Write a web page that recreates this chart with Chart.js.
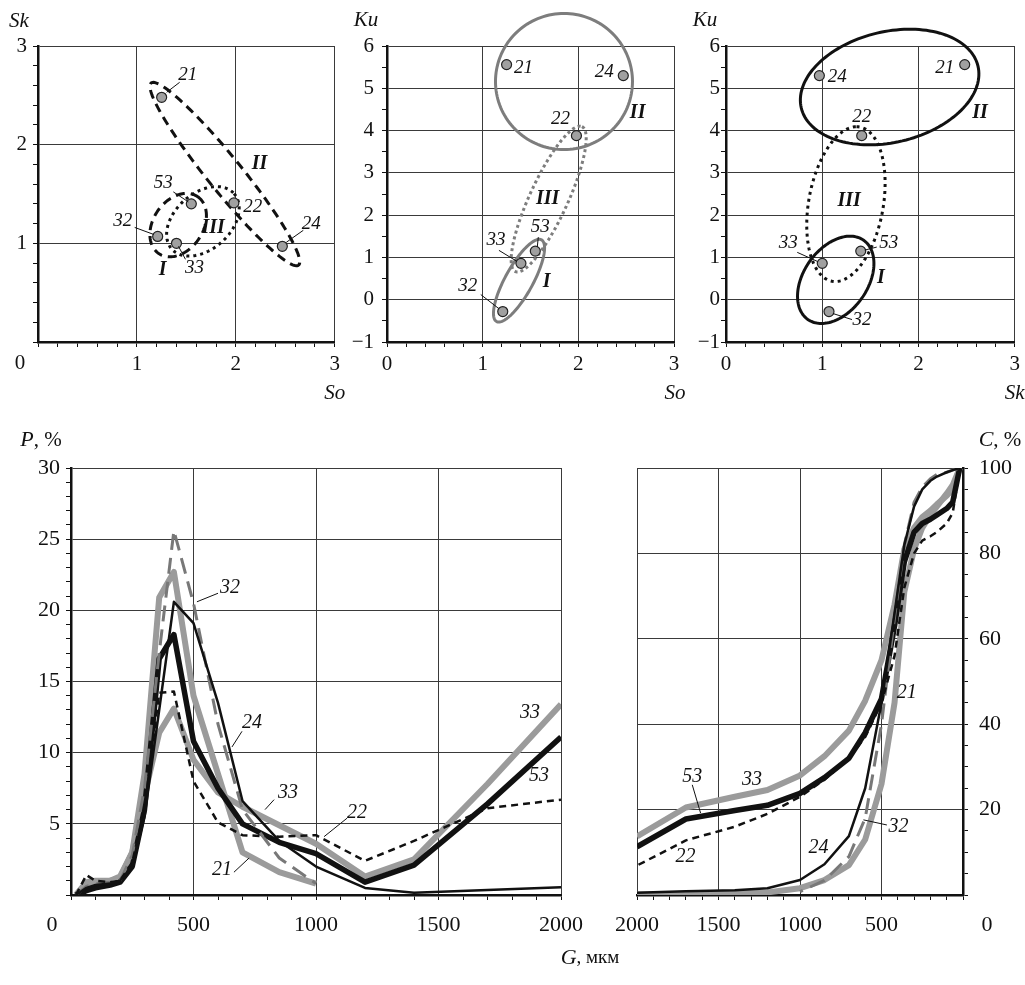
<!DOCTYPE html>
<html>
<head>
<meta charset="utf-8">
<title>Grain size parameters</title>
<script src="https://cdn.jsdelivr.net/npm/chart.js@4.4.1/dist/chart.umd.min.js"></script>
<style>
  html, body { margin: 0; padding: 0; background: #fff; }
  #wrap { position: relative; width: 1025px; height: 985px; overflow: hidden; }
  #wrap canvas { position: absolute; }
</style>
</head>
<body>
<div id="wrap">
  <canvas id="soSk" width="345" height="405" style="left:0;top:0"></canvas>
  <canvas id="soKu" width="345" height="405" style="left:340px;top:0"></canvas>
  <canvas id="skKu" width="340" height="405" style="left:685px;top:0"></canvas>
  <canvas id="pChart" width="640" height="565" style="left:0;top:420px"></canvas>
  <canvas id="cChart" width="425" height="565" style="left:600px;top:420px"></canvas>
</div>
<script>
var FONT = '"Liberation Serif", "Times New Roman", serif';
Chart.defaults.font.family = FONT;
Chart.defaults.color = "#111";

// samples: sorting (So), skewness (Sk), kurtosis (Ku)
var sampleIds = ["21", "22", "24", "32", "33", "53"];
var sampleSo = [1.25, 1.98, 2.47, 1.21, 1.40, 1.55];
var sampleSk = [2.48, 1.41, 0.97, 1.07, 1.00, 1.40];
var sampleKu = [5.56, 3.88, 5.30, -0.28, 0.86, 1.15];

// grain size, mkm
var gSizes = [20, 63, 100, 160, 200, 250, 300, 360, 420, 500, 600, 700, 850, 1000, 1200, 1400, 1700, 2000];

// P, % (fraction content)
var pct21 = [0, 0.9, 1.0, 1.0, 1.2, 3.0, 8.5, 20.9, 22.7, 14.0, 8.5, 3.0, 1.6, 0.8];
var pct22 = [0, 1.4, 1.0, 0.9, 1.0, 2.3, 6.0, 14.2, 14.3, 8.0, 5.1, 4.2, 4.1, 4.2, 2.4, 3.8, 6.1, 6.7];
var pct24 = [0, 0.5, 0.7, 0.8, 1.0, 2.0, 5.5, 13.0, 20.6, 19.1, 13.5, 6.6, 3.8, 2.0, 0.5, 0.15, 0.35, 0.55];
var pct32 = [0, 0.6, 0.8, 0.9, 1.0, 2.8, 7.5, 17.0, 25.6, 20.5, 12.0, 6.0, 2.6, 0.8];
var pct33 = [0, 0.7, 0.9, 1.0, 1.3, 3.0, 7.0, 11.4, 13.1, 9.5, 7.2, 6.2, 4.9, 3.6, 1.3, 2.5, 7.8, 13.4];
var pct53 = [0, 0.3, 0.5, 0.7, 0.9, 2.0, 6.0, 16.6, 18.3, 10.8, 7.5, 5.0, 3.7, 2.9, 0.9, 2.1, 6.4, 11.1];

// C, % (cumulative)
var cum21 = [100, 96, 94, 91, 89, 86, 81, 71, 45, 26, 13, 7, 3.5, 1.6, 0.6, 0.4, 0.2, 0.1];
var cum22 = [100, 89.5, 87, 85, 84, 83, 80, 72, 56, 45, 37, 32, 27, 23, 19, 16, 12.8, 6.9];
var cum24 = [100, 99.5, 99, 98, 97, 95, 91, 82, 66, 45, 25, 13.8, 7.2, 3.5, 1.6, 1.1, 0.9, 0.55];
var cum32 = [100, 99.5, 99, 98.5, 97.5, 95.5, 92, 82, 65, 40, 18, 9, 3.4, 0.8];
var cum33 = [100, 95, 93.5, 91.5, 90, 88.5, 86, 81, 68, 55, 45.5, 38.5, 32.5, 28, 24.6, 23, 20.5, 13.7];
var cum53 = [100, 92, 90.5, 89, 88, 87, 85, 78, 63, 46, 38, 32, 27.5, 23.8, 21, 19.8, 17.8, 11.3];

var seriesStyle = {
  "21": { color: "#9b9b9b", width: 6, dash: [] },
  "22": { color: "#111", width: 2.5, dash: [7, 5] },
  "24": { color: "#111", width: 2.5, dash: [] },
  "32": { color: "#787878", width: 3, dash: [16, 8] },
  "33": { color: "#9b9b9b", width: 6, dash: [] },
  "53": { color: "#111", width: 5.5, dash: [] }
};

// group outlines: centre and two conjugate half-axes, in axis units
var notes = {
  soSk: {
    ellipses: [
      { c: [1.889, 1.702], u: [0.745, -0.923], v: [-0.135, -0.109], color: "#111", width: 3, dash: [9, 6] },
      { c: [1.417, 1.185], u: [0.197, 0.288], v: [0.207, -0.143], color: "#111", width: 3, dash: [9, 6] },
      { c: [1.667, 1.223], u: [0.315, 0.281], v: [0.188, -0.212], color: "#111", width: 3, dash: [3, 4] }
    ],
    pointLabels: {
      "21": { dx: 26, dy: -22, lead: [5, -5, 18, -15] },
      "22": { dx: 19, dy: 4 },
      "24": { dx: 29, dy: -22, lead: [4, -4, 21, -16] },
      "32": { dx: -35, dy: -15, lead: [-4, -2, -23, -9] },
      "33": { dx: 18, dy: 25, lead: [2, 3, 9, 16] },
      "53": { dx: -28, dy: -21, lead: [-3, -2, -18, -12] }
    },
    romans: [["II", 2.24, 1.81], ["I", 1.26, 0.73], ["III", 1.77, 1.16]],
    titles: [
      { runs: [{ t: "Sk", it: true, s: 21 }], at: function (a) { return [a.left - 19, a.top - 25]; } },
      { runs: [{ t: "So", it: true, s: 21 }], at: function (a) { return [a.right, a.bottom + 51]; } },
      { runs: [{ t: "0", s: 21 }], at: function (a) { return [a.left - 18, a.bottom + 21]; } }
    ]
  },
  soKu: {
    ellipses: [
      { c: [1.85, 5.16], u: [0.716, 0], v: [0, 1.61], color: "#7d7d7d", width: 3, dash: [] },
      { c: [1.69, 2.38], u: [0.348, 1.714], v: [0.181, -0.187], color: "#7d7d7d", width: 3, dash: [3, 3] },
      { c: [1.38, 0.45], u: [0.235, 0.965], v: [0.127, -0.158], color: "#7d7d7d", width: 3, dash: [] }
    ],
    pointLabels: {
      "21": { dx: 17, dy: 3 },
      "24": { dx: -19, dy: -4 },
      "22": { dx: -16, dy: -17 },
      "53": { dx: 5, dy: -24, lead: [2, -4, 3, -14] },
      "33": { dx: -25, dy: -23, lead: [-4, -2, -22, -13] },
      "32": { dx: -35, dy: -26, lead: [-4, -3, -22, -17] }
    },
    romans: [["II", 2.62, 4.41], ["III", 1.68, 2.38], ["I", 1.67, 0.42]],
    titles: [
      { runs: [{ t: "Ku", it: true, s: 21 }], at: function (a) { return [a.left - 21, a.top - 26]; } },
      { runs: [{ t: "So", it: true, s: 21 }], at: function (a) { return [a.right + 1, a.bottom + 51]; } }
    ]
  },
  skKu: {
    ellipses: [
      { c: [1.70, 5.03], u: [0.918, 0.494], v: [0.132, -1.274], color: "#111", width: 3, dash: [] },
      { c: [1.246, 2.26], u: [0.11, 1.83], v: [0.392, 0], color: "#111", width: 3, dash: [3, 4] },
      { c: [1.14, 0.47], u: [0.290, 0.936], v: [0.271, -0.435], color: "#111", width: 3, dash: [] }
    ],
    pointLabels: {
      "24": { dx: 18, dy: 1 },
      "21": { dx: -20, dy: 3 },
      "22": { dx: 0, dy: -19 },
      "33": { dx: -34, dy: -20, lead: [-5, -2, -25, -11] },
      "53": { dx: 28, dy: -8, lead: [4, -1, 16, -4] },
      "32": { dx: 33, dy: 8, lead: [4, 2, 23, 8] }
    },
    romans: [["II", 2.64, 4.41], ["III", 1.28, 2.33], ["I", 1.61, 0.51]],
    titles: [
      { runs: [{ t: "Ku", it: true, s: 21 }], at: function (a) { return [a.left - 21, a.top - 26]; } },
      { runs: [{ t: "Sk", it: true, s: 21 }], at: function (a) { return [a.right, a.bottom + 51]; } }
    ]
  },
  pChart: {
    tags: [
      ["32", 649, 21.6, [600, 21.2, 514, 20.6]],
      ["24", 739, 12.1, [698, 11.5, 657, 10.4]],
      ["33", 886, 7.2, [829, 6.7, 792, 6.0]],
      ["22", 1167, 5.8, [1127, 5.4, 1033, 4.1]],
      ["21", 616, 1.75, [665, 1.6, 727, 2.6]],
      ["33", 1873, 12.8],
      ["53", 1910, 8.4]
    ],
    titles: [
      { runs: [{ t: "P", it: true, s: 22 }, { t: ", %", s: 21 }], at: function (a) { return [a.left - 30, a.top - 28]; } },
      { runs: [{ t: "0", s: 22 }], at: function (a) { return [a.left - 19, a.bottom + 30]; } },
      { runs: [{ t: "G", it: true, s: 22 }, { t: ", мкм", s: 19 }], at: function () { return [590, 538]; } }
    ]
  },
  cChart: {
    tags: [
      ["21", 345, 47.3],
      ["53", 1661, 27.7, [1661, 25.8, 1610, 19.2]],
      ["33", 1294, 27],
      ["22", 1702, 9],
      ["24", 886, 11],
      ["32", 396, 16, [467, 16.4, 611, 17.6]]
    ],
    titles: [
      { runs: [{ t: "C", it: true, s: 22 }, { t: ", %", s: 21 }], at: function (a) { return [a.right + 37, a.top - 28]; } },
      { runs: [{ t: "0", s: 22 }], at: function (a) { return [a.right + 24, a.bottom + 30]; } }
    ]
  }
};

function isMajor(v, step) {
  var q = v / step;
  return Math.abs(q - Math.round(q)) < 1e-6;
}

function numText(v) {
  var r = Math.round(v * 10) / 10;
  return r < 0 ? "\u2212" + Math.abs(r) : String(r);
}

function runFont(r) {
  return (r.it ? "italic " : "") + (r.b ? "bold " : "") + (r.s || 20) + "px " + FONT;
}

function drawRuns(ctx, runs, cx, cy) {
  var total = 0;
  runs.forEach(function (r) {
    ctx.font = runFont(r);
    total += ctx.measureText(r.t).width;
  });
  var x = cx - total / 2;
  ctx.textBaseline = "middle";
  ctx.textAlign = "left";
  runs.forEach(function (r) {
    ctx.font = runFont(r);
    ctx.fillText(r.t, x, cy);
    x += ctx.measureText(r.t).width;
  });
}

function drawEllipse(chart, e) {
  var xs = chart.scales.x, ys = chart.scales.y, ctx = chart.ctx;
  ctx.save();
  ctx.beginPath();
  for (var k = 0; k <= 144; k++) {
    var t = (k / 144) * Math.PI * 2;
    var dx = e.c[0] + e.u[0] * Math.cos(t) + e.v[0] * Math.sin(t);
    var dy = e.c[1] + e.u[1] * Math.cos(t) + e.v[1] * Math.sin(t);
    var px = xs.getPixelForValue(dx), py = ys.getPixelForValue(dy);
    if (k === 0) ctx.moveTo(px, py); else ctx.lineTo(px, py);
  }
  ctx.closePath();
  ctx.setLineDash(e.dash);
  ctx.lineWidth = e.width;
  ctx.strokeStyle = e.color;
  ctx.stroke();
  ctx.restore();
}

var annotate = {
  id: "annotate",
  beforeDatasetsDraw: function (chart) {
    var n = notes[chart.canvas.id];
    (n.ellipses || []).forEach(function (e) { drawEllipse(chart, e); });
  },
  afterDatasetsDraw: function (chart) {
    var n = notes[chart.canvas.id];
    var ctx = chart.ctx, xs = chart.scales.x, ys = chart.scales.y;
    ctx.save();
    ctx.fillStyle = "#111";
    ctx.strokeStyle = "#111";
    ctx.lineWidth = 1;
    if (n.pointLabels) {
      var pts = chart.getDatasetMeta(0).data;
      sampleIds.forEach(function (id, i) {
        var L = n.pointLabels[id];
        var p = pts[i];
        if (!L || !p) return;
        if (L.lead) {
          ctx.beginPath();
          ctx.moveTo(p.x + L.lead[0], p.y + L.lead[1]);
          ctx.lineTo(p.x + L.lead[2], p.y + L.lead[3]);
          ctx.stroke();
        }
        drawRuns(ctx, [{ t: id, it: true, s: 19 }], p.x + L.dx, p.y + L.dy);
      });
    }
    (n.tags || []).forEach(function (t) {
      if (t[3]) {
        ctx.beginPath();
        ctx.moveTo(xs.getPixelForValue(t[3][0]), ys.getPixelForValue(t[3][1]));
        ctx.lineTo(xs.getPixelForValue(t[3][2]), ys.getPixelForValue(t[3][3]));
        ctx.stroke();
      }
      drawRuns(ctx, [{ t: t[0], it: true, s: 20 }], xs.getPixelForValue(t[1]), ys.getPixelForValue(t[2]));
    });
    (n.romans || []).forEach(function (r) {
      drawRuns(ctx, [{ t: r[0], it: true, b: true, s: 20 }], xs.getPixelForValue(r[1]), ys.getPixelForValue(r[2]));
    });
    ctx.restore();
  },
  afterDraw: function (chart) {
    var n = notes[chart.canvas.id];
    var ctx = chart.ctx, a = chart.chartArea;
    ctx.save();
    ctx.fillStyle = "#111";
    (n.titles || []).forEach(function (t) {
      var pos = t.at(a);
      drawRuns(ctx, t.runs, pos[0], pos[1]);
    });
    ctx.restore();
  }
};

function axis(opt) {
  return {
    type: "linear",
    position: opt.position,
    reverse: !!opt.reverse,
    min: opt.min,
    max: opt.max,
    afterFit: opt.fit,
    ticks: {
      stepSize: opt.minor,
      autoSkip: false,
      maxRotation: 0,
      padding: opt.pad,
      color: "#111",
      font: { size: opt.font },
      callback: function (v) {
        if (!isMajor(v, opt.major)) return "";
        if (v === 0 && !opt.showZero) return "";
        return numText(v);
      }
    },
    grid: {
      color: function (c) { return c.tick && isMajor(c.tick.value, opt.major) ? "#3a3a3a" : "rgba(0,0,0,0)"; },
      tickColor: "#111",
      tickLength: 5,
      lineWidth: 1
    },
    border: { color: "#111", width: 2.5 }
  };
}

function scatterChart(id, xVals, yVals, s) {
  var canvas = document.getElementById(id);
  var w = canvas.width, h = canvas.height;
  return new Chart(canvas, {
    type: "scatter",
    data: {
      datasets: [{
        data: xVals.map(function (x, i) { return { x: x, y: yVals[i] }; }),
        pointRadius: 5,
        pointBackgroundColor: "#a0a0a0",
        pointBorderColor: "#222",
        pointBorderWidth: 1.2
      }]
    },
    options: {
      responsive: false,
      animation: false,
      devicePixelRatio: 1,
      layout: { padding: { left: 0, top: s.area[1], right: w - s.area[2], bottom: 0 } },
      plugins: { legend: { display: false }, tooltip: { enabled: false } },
      scales: {
        x: axis({ position: "bottom", min: 0, max: 3, minor: 0.2, major: 1, pad: 5, font: 21, showZero: s.x0,
          fit: function (sc) { sc.height = h - s.area[3]; } }),
        y: axis({ position: "left", min: s.yMin, max: s.yMax, minor: s.yMinor, major: 1, pad: s.yPad, font: 21, showZero: s.y0,
          fit: function (sc) { sc.width = s.area[0]; } })
      }
    },
    plugins: [annotate]
  });
}

function lineSet(label, vals) {
  var st = seriesStyle[label];
  return {
    label: label,
    data: vals.map(function (v, i) { return { x: gSizes[i], y: v }; }),
    borderColor: st.color,
    borderWidth: st.width,
    borderDash: st.dash,
    borderJoinStyle: "round",
    pointRadius: 0,
    tension: 0,
    fill: false
  };
}

function sizeChart(id, sets, s) {
  var canvas = document.getElementById(id);
  var w = canvas.width, h = canvas.height;
  var right = s.yPos === "right";
  return new Chart(canvas, {
    type: "line",
    data: { datasets: sets },
    options: {
      responsive: false,
      animation: false,
      devicePixelRatio: 1,
      layout: { padding: { left: right ? s.area[0] : 0, top: s.area[1], right: right ? 0 : w - s.area[2], bottom: 0 } },
      plugins: { legend: { display: false }, tooltip: { enabled: false } },
      scales: {
        x: axis({ position: "bottom", reverse: s.reverse, min: 0, max: 2000, minor: 100, major: 500, pad: 12, font: 22, showZero: false,
          fit: function (sc) { sc.height = h - s.area[3]; } }),
        y: axis({ position: s.yPos, min: 0, max: s.yMax, minor: s.yMinor, major: s.yMajor, pad: s.yPad, font: 22, showZero: false,
          fit: function (sc) { sc.width = right ? w - s.area[2] : s.area[0]; } })
      }
    },
    plugins: [annotate]
  });
}

scatterChart("soSk", sampleSo, sampleSk, { area: [38, 46, 335, 342], yMin: 0, yMax: 3, yMinor: 0.2, yPad: 6, x0: false, y0: false });
scatterChart("soKu", sampleSo, sampleKu, { area: [47, 46, 334, 342], yMin: -1, yMax: 6, yMinor: 0.5, yPad: 8, x0: true, y0: true });
scatterChart("skKu", sampleSk, sampleKu, { area: [41, 46, 330, 342], yMin: -1, yMax: 6, yMinor: 0.5, yPad: 1, x0: true, y0: true });

var drawOrder = ["24", "22", "32", "53", "33", "21"];
var pctById = { "21": pct21, "22": pct22, "24": pct24, "32": pct32, "33": pct33, "53": pct53 };
var cumById = { "21": cum21, "22": cum22, "24": cum24, "32": cum32, "33": cum33, "53": cum53 };

sizeChart("pChart", drawOrder.map(function (id) { return lineSet(id, pctById[id]); }),
  { area: [71, 48, 561, 475], yPos: "left", reverse: false, yMax: 30, yMinor: 1, yMajor: 5, yPad: 6 });
sizeChart("cChart", drawOrder.map(function (id) { return lineSet(id, cumById[id]); }),
  { area: [37, 48, 363, 475], yPos: "right", reverse: true, yMax: 100, yMinor: 5, yMajor: 20, yPad: 11 });
</script>
</body>
</html>
